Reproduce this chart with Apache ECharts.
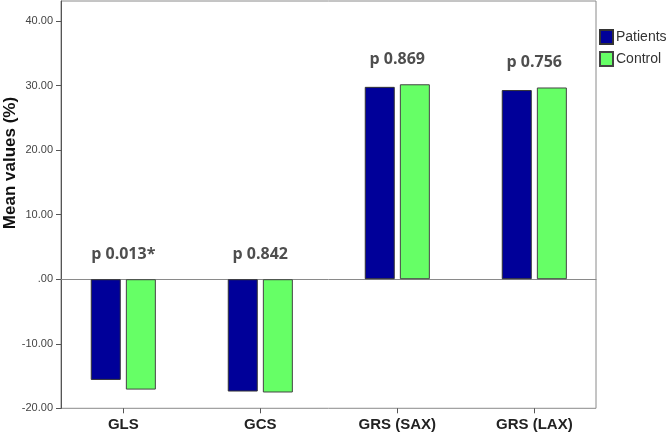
<!DOCTYPE html>
<html>
<head>
<meta charset="utf-8">
<script src="https://cdn.jsdelivr.net/npm/echarts@6/dist/echarts.min.js"></script>
<style>html,body{margin:0;padding:0;background:#fff}#c{width:669px;height:434px}</style>
</head>
<body>
<div id="c"></div>
<script>
const categories = ['GLS', 'GCS', 'GRS (SAX)', 'GRS (LAX)'];
const patients = [-15.6, -17.4, 29.8, 29.3];
const control = [-17.1, -17.55, 30.2, 29.7];
const pValues = ['p 0.013*', 'p 0.842', 'p 0.869', 'p 0.756'];
const yTicks = [-20, -10, 0, 10, 20, 30, 40];

const yMin = -20, yMax = 43.1;
const chart = echarts.init(document.getElementById('c'));
const fmt = v => v === 0 ? '.00' : v.toFixed(2);

chart.setOption({
  animation: false,
  backgroundColor: '#fff',
  grid: [
    { left: 54.8, right: 66.2, top: 1, bottom: 25.7 },
    { left: 61, right: 73, top: 1, bottom: 25.7, show: true, borderColor: '#8a8a8a', borderWidth: 1, backgroundColor: 'transparent' }
  ],
  legend: {
    data: ['Patients', 'Control'],
    orient: 'vertical', left: 599, top: 29, padding: 0,
    itemWidth: 13, itemHeight: 14, itemGap: 6, icon: 'rect',
    textStyle: { fontFamily: 'Liberation Sans', fontSize: 14, color: '#333', padding: [0, 0, 0, -2] }
  },
  xAxis: [
    {
      type: 'category', gridIndex: 0, data: categories,
      axisLine: { show: false, onZero: false },
      axisTick: { show: true, alignWithLabel: true, length: 5, lineStyle: { color: '#555' } },
      axisLabel: { fontFamily: 'Liberation Sans', fontWeight: 'bold', fontSize: 15, color: '#222', margin: 9 },
      splitLine: { show: false }
    },
    {
      type: 'value', gridIndex: 1, min: 0, max: 1,
      axisLine: { show: true, onZero: true, lineStyle: { color: '#8a8a8a', width: 1 } },
      axisTick: { show: false }, axisLabel: { show: false }, splitLine: { show: false }
    }
  ],
  yAxis: [
    { type: 'value', gridIndex: 0, min: yMin, max: yMax, show: false, splitLine: { show: false } },
    {
      type: 'value', gridIndex: 1, min: yMin, max: yMax,
      axisLine: { show: true, lineStyle: { color: '#555', width: 1 } },
      axisTick: { show: true, length: 5, customValues: yTicks, lineStyle: { color: '#555' } },
      axisLabel: { customValues: yTicks, formatter: fmt, fontFamily: 'Liberation Sans', fontSize: 11, color: '#444', margin: 8 },
      splitLine: { show: false }
    }
  ],
  graphic: [{
    type: 'text', x: 10.5, y: 163, rotation: Math.PI / 2,
    style: { text: 'Mean values (%)', font: 'bold 17px "Liberation Sans"', fill: '#111', align: 'center', verticalAlign: 'middle' }
  }],
  series: [
    {
      name: 'Patients', type: 'bar', xAxisIndex: 0, yAxisIndex: 0, data: patients,
      barWidth: 30, barGap: '17%',
      itemStyle: { color: '#000099', borderColor: '#333', borderWidth: 1 }
    },
    {
      name: 'Control', type: 'bar', xAxisIndex: 0, yAxisIndex: 0, data: control,
      barWidth: 30, barGap: '17%',
      itemStyle: { color: '#66FF66', borderColor: '#444', borderWidth: 1 }
    },
    {
      name: 'p', type: 'scatter', xAxisIndex: 0, yAxisIndex: 0, symbolSize: 0,
      data: categories.map((c, i) => [c, Math.max(0, patients[i], control[i])]),
      label: {
        show: true, position: 'top', distance: 17,
        formatter: p => pValues[p.dataIndex],
        fontFamily: 'Open Sans', fontWeight: 'bold', fontSize: 16, color: '#222'
      },
      silent: true
    }
  ]
});
</script>
</body>
</html>
